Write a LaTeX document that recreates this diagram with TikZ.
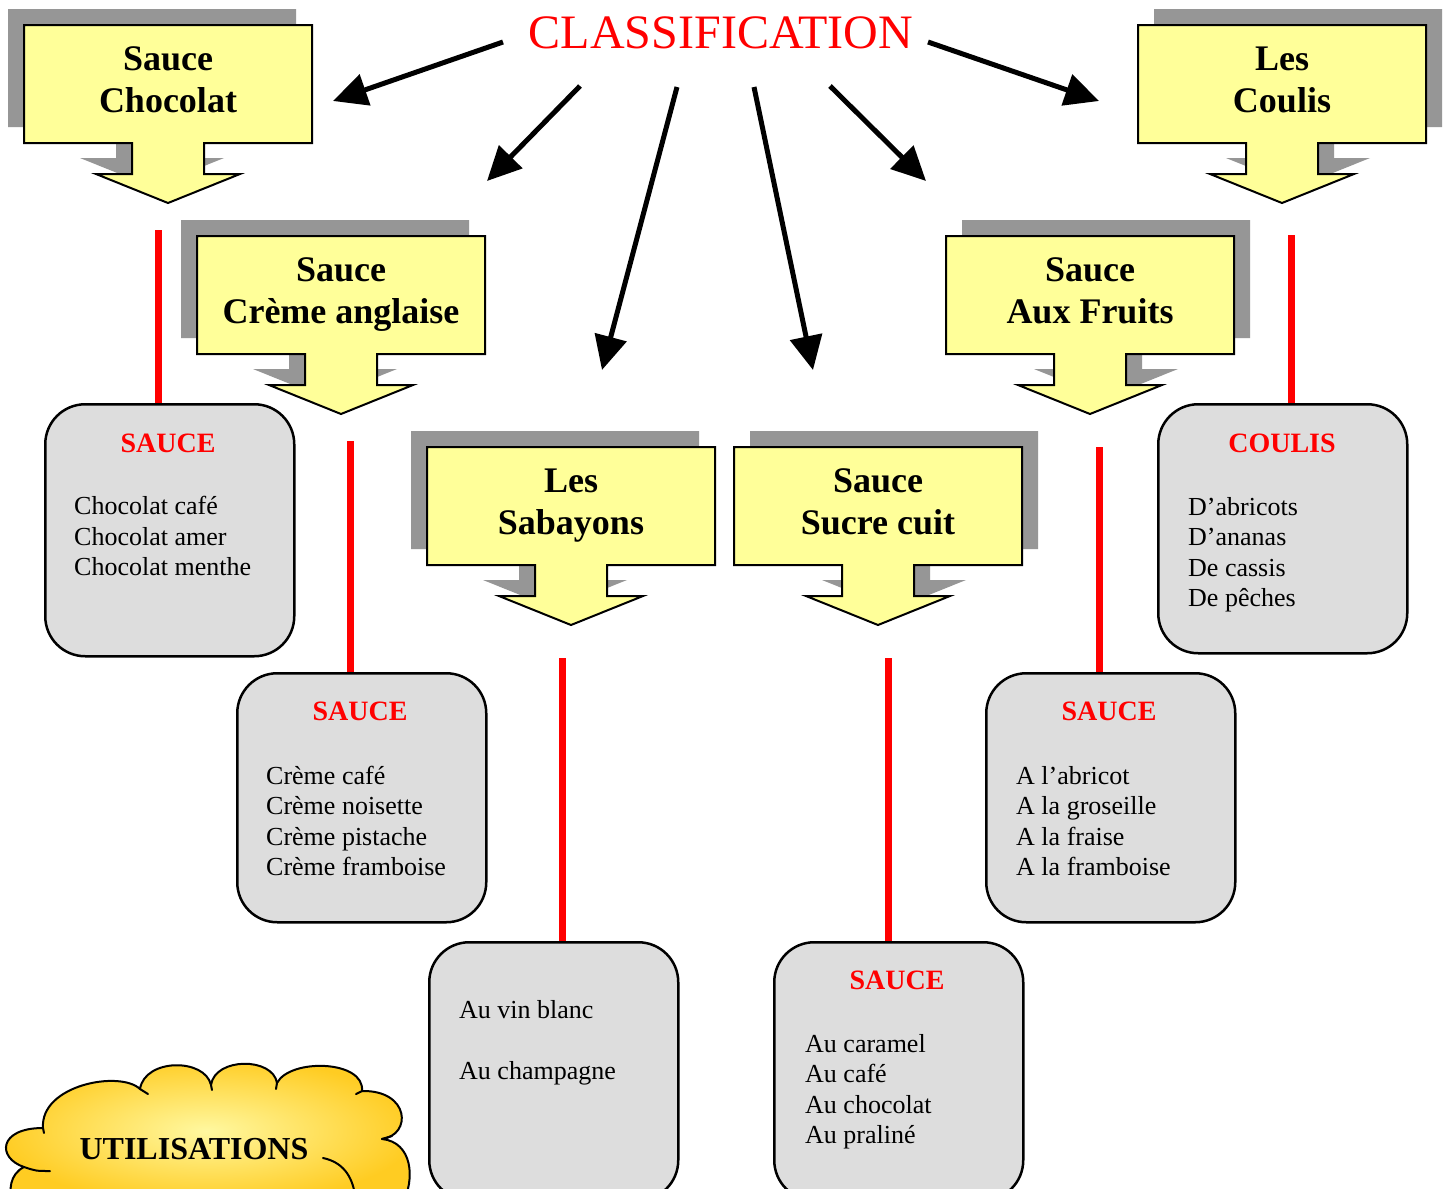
\documentclass[tikz,border=0pt]{standalone}
\usepackage{fontspec}
\setmainfont{Liberation Serif}
\usetikzlibrary{arrows.meta}
\definecolor{calloutyellow}{HTML}{FFFF99}
\definecolor{shadowgray}{HTML}{969696}
\definecolor{boxgray}{HTML}{DDDDDD}
\definecolor{cloudin}{HTML}{FFF8A0}
\definecolor{cloudout}{HTML}{FFCC22}
\tikzset{
  calloutstyle/.style={fill=calloutyellow, draw=black, line width=2pt, line join=miter},
  callouttext/.style={font=\bfseries\fontsize{36}{42}\selectfont, align=center, inner sep=0pt, text depth=0pt},
  listbox/.style={draw=black, fill=boxgray, line width=2.5pt, rounded corners=40pt, anchor=north west, inner sep=0pt},
  boxtitle/.style={font=\bfseries\fontsize{28}{32}\selectfont, text=red, inner sep=0pt},
  boxlist/.style={font=\fontsize{26}{30.5}\selectfont, align=left, anchor=west, inner sep=0pt, text depth=0pt},
  redline/.style={draw=red, line width=7pt},
  bigarrow/.style={line width=5pt, -{Triangle[length=34pt,width=32pt]}},
  cloudline/.style={line width=2pt, line cap=round},
}
\newcommand\calloutpath{(-144,0) -- (144,0) -- (144,118) -- (36,118) -- (36,149) -- (72,149) -- (0,178) -- (-72,149) -- (-36,149) -- (-36,118) -- (-144,118) -- cycle}
% name, cx, top, shadow dx, text
\newcommand\mycallout[5]{%
  \fill[shadowgray, shift={({#2+(#4)},{#3-16})}] \calloutpath;
  \filldraw[calloutstyle, shift={(#2,#3)}] \calloutpath;
  \node[callouttext] (#1) at (#2,{#3+55}) {#5};
}
\begin{document}
\begin{tikzpicture}[x=1pt,y=-1pt]
\useasboundingbox (0,0) rectangle (1444,1189);
\fill[white] (0,0) rectangle (1444,1189);

% title
\node[font=\fontsize{48}{56}\selectfont, text=red, inner sep=0pt] (cls) at (721,33) {CLASSIFICATION};

% callouts
\mycallout{c1}{168}{25}{-16}{Sauce\\Chocolat}
\mycallout{c6}{1282}{25}{16}{Les\\Coulis}
\mycallout{c2}{341}{236}{-16}{Sauce\\Crème anglaise}
\mycallout{c5}{1090}{236}{16}{Sauce\\Aux Fruits}
\mycallout{c3}{571}{447}{-16}{Les\\Sabayons}
\mycallout{c4}{878}{447}{16}{Sauce\\Sucre cuit}

% arrows from title
\coordinate (a1s) at (503,42);  \coordinate (a1e) at (333,101);
\coordinate (a2s) at (580,86);  \coordinate (a2e) at (487,181);
\coordinate (a3s) at (677,87);  \coordinate (a3e) at (602,370);
\coordinate (a4s) at (754,87);  \coordinate (a4e) at (813,370);
\coordinate (a5s) at (830,86);  \coordinate (a5e) at (926,181);
\coordinate (a6s) at (928,42);  \coordinate (a6e) at (1099,101);
\foreach \i in {1,...,6} {\draw[bigarrow] (a\i s) -- (a\i e);}

% boxes
\node[listbox, minimum width=249pt, minimum height=252pt] (b1) at (44,403) {};
\node[listbox, minimum width=249pt, minimum height=249pt] (b2) at (236,672) {};
\node[listbox, minimum width=249pt, minimum height=258pt] (b3) at (428,941) {};
\node[listbox, minimum width=249pt, minimum height=258pt] (b4) at (773,941) {};
\node[listbox, minimum width=249pt, minimum height=249pt] (b5) at (985,672) {};
\node[listbox, minimum width=249pt, minimum height=249pt] (b6) at (1157,403) {};

% red connectors
\coordinate (r1) at (158,230);
\coordinate (r2) at (350,441);
\coordinate (r3) at (562,658);
\coordinate (r4) at (888,658);
\coordinate (r5) at (1099,447);
\coordinate (r6) at (1291,235);
\foreach \i in {1,...,6} {\draw[redline] (r\i) -- (r\i |- b\i.north);}

% box texts
\node[boxtitle] (b1t) at (168,443) {SAUCE};
\node[boxlist] (b1l) at (74,536) {Chocolat café\\Chocolat amer\\Chocolat menthe};
\node[boxtitle] (b2t) at (360,711) {SAUCE};
\node[boxlist] (b2l) at (266,821) {Crème café\\Crème noisette\\Crème pistache\\Crème framboise};
\node[boxlist] (b3l) at (459,1040) {Au vin blanc\\[31pt]Au champagne};
\node[boxtitle] (b4t) at (897,980) {SAUCE};
\node[boxlist] (b4l) at (805,1089) {Au caramel\\Au café\\Au chocolat\\Au praliné};
\node[boxtitle] (b5t) at (1109,711) {SAUCE};
\node[boxlist] (b5l) at (1016,821) {A l’abricot\\A la groseille\\A la fraise\\A la framboise};
\node[boxtitle] (b6t) at (1282,443) {COULIS};
\node[boxlist] (b6l) at (1188,552) {D’abricots\\D’ananas\\De cassis\\De pêches};

% cloud
\shadedraw[inner color=cloudin, outer color=cloudout, line width=2pt, line join=round]
  (13,1205) .. controls (8,1190) and (10,1174) .. (24,1167)
  .. controls (-3,1158) and (-2,1128) .. (43,1128)
  .. controls (40,1085) and (120,1070) .. (140,1089)
  .. controls (145,1058) and (205,1058) .. (211,1085)
  .. controls (215,1057) and (273,1057) .. (277,1083)
  .. controls (290,1058) and (365,1060) .. (362,1091)
  .. controls (410,1090) and (412,1135) .. (382,1139)
  .. controls (412,1142) and (416,1178) .. (402,1205)
  -- cycle;
\draw[cloudline] (24,1167) .. controls (36,1171) .. (50,1171);
\draw[cloudline] (43,1128) -- (44,1133);
\draw[cloudline] (140,1089) -- (148,1094);
\draw[cloudline] (211,1085) -- (212,1090);
\draw[cloudline] (277,1083) -- (276,1089);
\draw[cloudline] (362,1091) -- (356,1094);
\draw[cloudline] (382,1139) -- (392,1136);
\draw[cloudline] (323,1158) .. controls (342,1162) and (352,1175) .. (355,1195);
\node[font=\bfseries\fontsize{32}{36}\selectfont, inner sep=0pt] (util) at (194,1149) {UTILISATIONS};
\end{tikzpicture}
\end{document}
